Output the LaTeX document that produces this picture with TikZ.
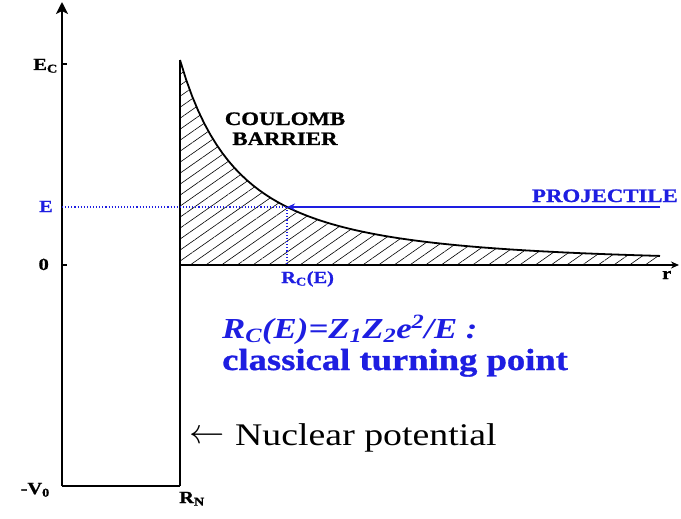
\documentclass[tikz,border=0pt]{standalone}
\usepackage{fontspec}
\setmainfont{Liberation Serif}[FakeStretch=1.2, BoldFeatures={FakeBold=1}]
\usepackage{tikz}
\usetikzlibrary{arrows.meta,patterns.meta}
\definecolor{beamblue}{RGB}{30,30,225}

\begin{document}
\begin{tikzpicture}[
  x=1pt, y=-1pt,
  axis/.style={line width=2.6pt},
  wall/.style={line width=2.2pt},
  lbl/.style={font=\fontsize{17}{18}\selectfont\bfseries, inner sep=0pt},
  big/.style={font=\fontsize{29}{30}\selectfont\bfseries, text=beamblue, inner sep=0pt, anchor=base west},
  beam/.style={beamblue, line width=1.4pt},
  guide/.style={beamblue, line width=1.1pt, dotted},
  >={Stealth[length=8pt, width=7pt]},
]
\useasboundingbox (0,0) rectangle (681,519);

\coordinate (vbot) at (62,486);
\coordinate (vtop) at (62,2);
\coordinate (nbot) at (180,486);
\coordinate (ntop) at (180,60);
\coordinate (zero) at (180,265);
\coordinate (rend) at (679,265);
\coordinate (tp) at (287,207);
\coordinate (tpfoot) at (287,265);
\coordinate (eaxis) at (62,207);
\coordinate (pend) at (660,207);
\coordinate (ec) at (62,64);
\coordinate (ezero) at (62,265);

% hatched barrier
\fill[pattern={Lines[angle=35, distance=9pt, line width=0.6pt]}]
  (zero) -- (ntop) -- plot[domain=180:660, samples=80] (\x, {265-205*(110/(\x-70))^1.858}) -- (660,265) -- cycle;
\draw[line width=1.8pt] (ntop) -- plot[domain=180:660, samples=80] (\x, {265-205*(110/(\x-70))^1.858});

% axes and nuclear well
\draw[axis, -{Stealth[length=12pt, width=12pt, inset=3pt]}] (vbot) -- (vtop);
\draw[axis] (vbot) -- (nbot);
\draw[wall] (nbot) -- (ntop);
\draw[line width=2pt, ->] (zero) -- (rend);
\draw[line width=1.5pt] (ec) -- ++(5,0);
\draw[line width=1.5pt] (ezero) -- ++(5,0);

% projectile
\draw[guide] (eaxis) -- (tp);
\draw[guide] (tp) -- (tpfoot);
\draw[beam, ->] (pend) -- (tp);

\node[lbl, anchor=base east] (Ec) at (58,70) {E\textsubscript{C}};
\node[lbl, anchor=base east, text=beamblue] (E) at (53,212) {E};
\node[lbl, anchor=base east] (zlab) at (49,270) {0};
\node[lbl, anchor=base east] (V0) at (50,494) {-V\textsubscript{0}};
\node[lbl, anchor=base west] (RN) at (179,503) {R\textsubscript{N}};
\node[lbl, anchor=base west] (rlab) at (662,279) {r};
\node[lbl, anchor=base west, text=beamblue] (RC) at (281,283) {R\textsubscript{C}(E)};
\node[font=\fontsize{19}{20}\selectfont\bfseries, inner sep=0pt, anchor=base] (CB1) at (285,125) {COULOMB};
\node[font=\fontsize{19}{20}\selectfont\bfseries, inner sep=0pt, anchor=base] (CB2) at (285,145) {BARRIER};
\node[font=\fontsize{19}{20}\selectfont\bfseries, text=beamblue, inner sep=0pt, anchor=base east] (proj) at (678,202) {PROJECTILE};

\node[big] (form) at (222,338) {\textit{R\textsubscript{C}(E)=Z\textsubscript{1}Z\textsubscript{2}e\textsuperscript{2}/E :}};
\node[big, font=\fontsize{30.5}{32}\selectfont\bfseries] (turn) at (222,370) {classical turning point};
\node[font=\fontsize{20}{20}\selectfont, inner sep=0pt, anchor=west] (arr) at (189,437) {\scalebox{1.7}{$\leftarrow$}};
\node[font=\fontsize{31.5}{32}\selectfont, inner sep=0pt, anchor=base west] (nuc) at (235,445) {Nuclear potential};
\end{tikzpicture}
\end{document}
